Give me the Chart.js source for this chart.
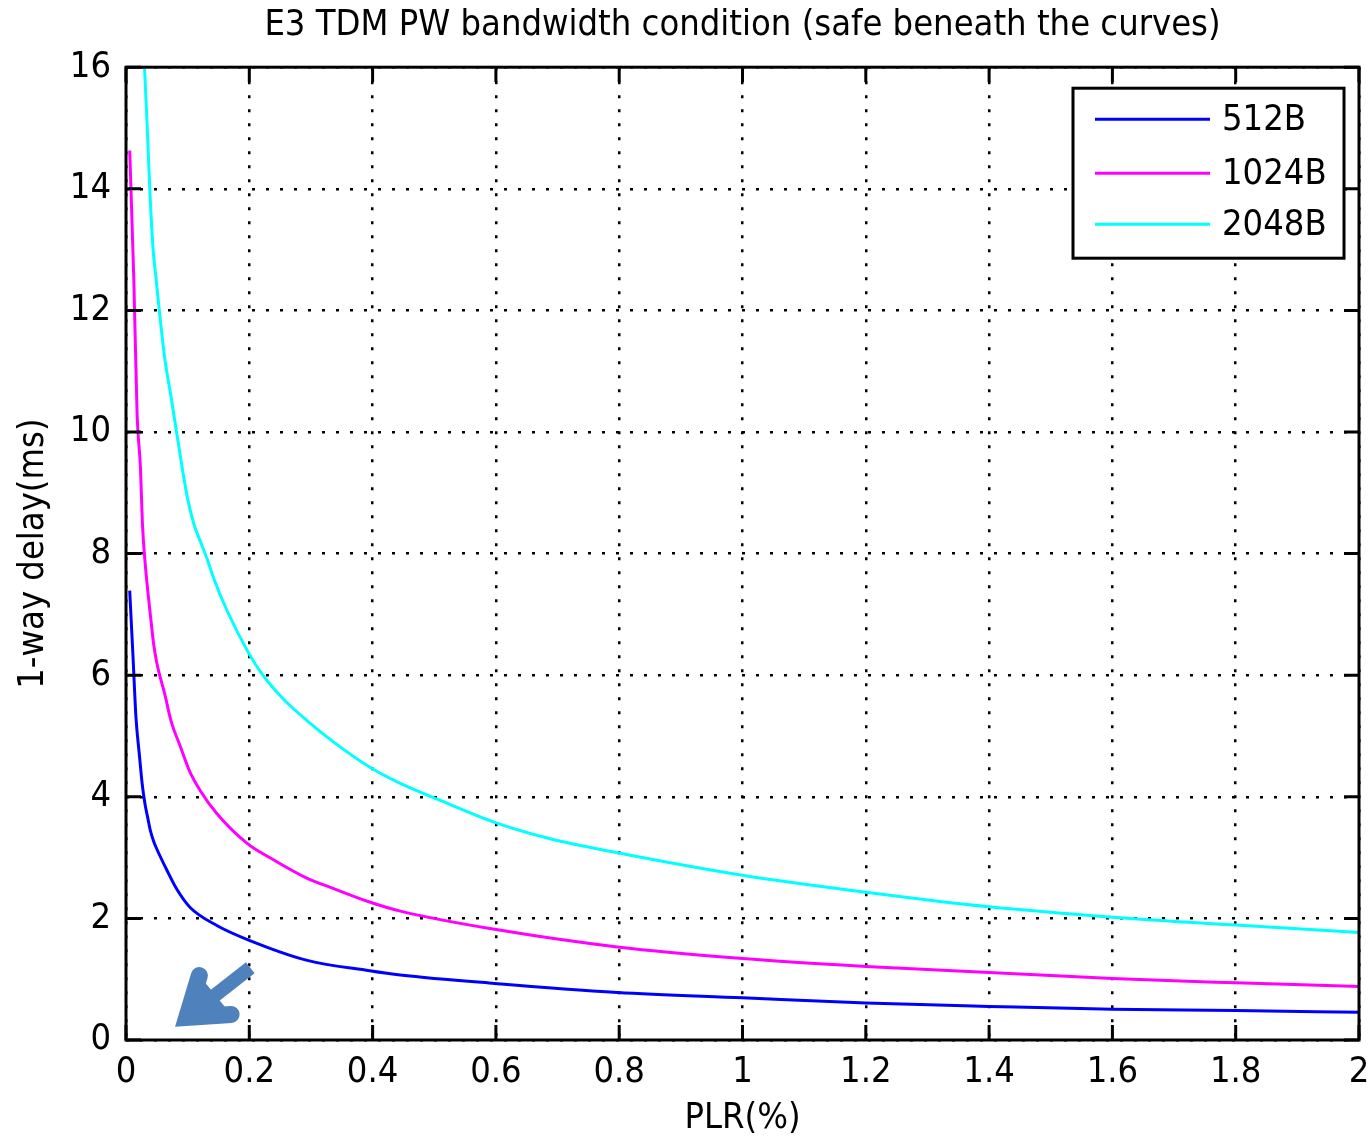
<!DOCTYPE html>
<html lang="en">
<head>
<meta charset="UTF-8">
<title>E3 TDM PW bandwidth condition</title>
<script src="https://cdn.jsdelivr.net/npm/chart.js"></script>
<style>
  html, body { margin: 0; padding: 0; background: #fff; }
  .wrap { width: 1371px; height: 1141px; position: relative; }
</style>
</head>
<body>
<div class="wrap"><canvas id="plr"></canvas></div>
<script>
// values
const xTickLabels = ['0', '0.2', '0.4', '0.6', '0.8', '1', '1.2', '1.4', '1.6', '1.8', '2'];
const yTickLabels = ['0', '2', '4', '6', '8', '10', '12', '14', '16'];
const seriesLabels = ['512B', '1024B', '2048B'];

const plr512 = [0.006, 0.0114, 0.0162, 0.0216, 0.0264, 0.0308, 0.035, 0.0394, 0.0448, 0.0496, 0.066, 0.083, 0.104, 0.148, 0.2, 0.294, 0.395, 0.445, 0.598, 0.797, 1.0, 1.2, 1.4, 1.6, 1.8, 2.0];
const delay512 = [7.39, 6.3, 5.3, 4.7, 4.2, 3.88, 3.67, 3.45, 3.27, 3.15, 2.80, 2.47, 2.18, 1.88, 1.64, 1.31, 1.14, 1.07, 0.93, 0.783, 0.695, 0.61, 0.553, 0.504, 0.485, 0.455];

const plr1024 = [0.006, 0.0127, 0.018, 0.0235, 0.0266, 0.031, 0.0357, 0.0405, 0.045, 0.05, 0.0546, 0.0626, 0.073, 0.088, 0.104, 0.1205, 0.1476, 0.197, 0.24, 0.294, 0.337, 0.395, 0.445, 0.598, 0.797, 1.0, 1.2, 1.4, 1.6, 1.8, 2.0];
const delay1024 = [14.63, 12.5, 10.3, 9.4, 8.5, 7.85, 7.35, 6.9, 6.5, 6.2, 6.0, 5.7, 5.25, 4.83, 4.4, 4.1, 3.72, 3.23, 2.96, 2.66, 2.49, 2.27, 2.12, 1.82, 1.53, 1.34, 1.21, 1.11, 1.01, 0.94, 0.88];

const plr2048 = [0.030, 0.0345, 0.039, 0.044, 0.049, 0.054, 0.063, 0.0727, 0.082, 0.0913, 0.100, 0.1097, 0.1226, 0.132, 0.142, 0.164, 0.197, 0.222, 0.256, 0.294, 0.337, 0.395, 0.445, 0.51, 0.598, 0.688, 0.797, 1.0, 1.2, 1.4, 1.6, 1.8, 2.0];
const delay2048 = [16.0, 15.0, 13.9, 13.0, 12.5, 12.0, 11.2, 10.6, 10.0, 9.4, 8.9, 8.5, 8.15, 7.9, 7.6, 7.06, 6.40, 6.0, 5.6, 5.25, 4.9, 4.49, 4.22, 3.94, 3.58, 3.31, 3.08, 2.71, 2.43, 2.19, 2.02, 1.89, 1.77];

const FONT = "'DejaVu Sans Condensed', 'DejaVu Sans', sans-serif";
const FS = 36;
const colors = ['#0000ff', '#ff00ff', '#00ffff'];

function pts(xs, ys) { return xs.map((x, i) => ({ x: x, y: ys[i] })); }

// matlab-like box, inward ticks, legend and the blue arrow
const matlabAxes = {
    id: 'matlabAxes',
    afterDraw(chart) {
        const ctx = chart.ctx, a = chart.chartArea;
        const xs = chart.scales.x, ys = chart.scales.y;
        ctx.save();
        ctx.strokeStyle = '#000';
        ctx.lineWidth = 3;
        ctx.strokeRect(a.left, a.top, a.right - a.left, a.bottom - a.top);
        ctx.beginPath();
        xs.ticks.forEach(t => {
            const px = xs.getPixelForValue(t.value);
            ctx.moveTo(px, a.bottom); ctx.lineTo(px, a.bottom - 15);
            ctx.moveTo(px, a.top); ctx.lineTo(px, a.top + 15);
        });
        ys.ticks.forEach(t => {
            const py = ys.getPixelForValue(t.value);
            ctx.moveTo(a.left, py); ctx.lineTo(a.left + 15, py);
            ctx.moveTo(a.right, py); ctx.lineTo(a.right - 15, py);
        });
        ctx.stroke();

        // legend box
        const bw = 271, bh = 170;
        const bx = a.right - 15 - bw, by = a.top + 21;
        ctx.fillStyle = '#fff';
        ctx.fillRect(bx, by, bw, bh);
        ctx.strokeRect(bx, by, bw, bh);
        ctx.font = FS + 'px ' + FONT;
        ctx.textBaseline = 'middle';
        ctx.textAlign = 'left';
        const rows = [31, 85, 136];
        chart.data.datasets.forEach((ds, i) => {
            const y = by + rows[i];
            ctx.strokeStyle = ds.borderColor;
            ctx.lineWidth = 3;
            ctx.beginPath();
            ctx.moveTo(bx + 22, y); ctx.lineTo(bx + 137, y);
            ctx.stroke();
            ctx.fillStyle = '#000';
            ctx.fillText(ds.label, bx + 149, y + 1);
        });

        // arrow annotation, placed in data space
        const P = (x, y) => [xs.getPixelForValue(x), ys.getPixelForValue(y)];
        const tail = P(0.2016, 1.187), tip = P(0.0985, 0.37);
        const w1 = P(0.1190, 1.06), w2 = P(0.1705, 0.42);
        ctx.strokeStyle = '#4f81bd';
        ctx.fillStyle = '#4f81bd';
        ctx.lineWidth = 14;
        ctx.lineCap = 'butt';
        ctx.beginPath();
        ctx.moveTo(tail[0], tail[1]); ctx.lineTo(tip[0], tip[1]);
        ctx.stroke();
        ctx.lineWidth = 17;
        ctx.lineCap = 'round';
        ctx.lineJoin = 'miter';
        ctx.miterLimit = 10;
        ctx.beginPath();
        ctx.moveTo(w1[0], w1[1]); ctx.lineTo(tip[0], tip[1]); ctx.lineTo(w2[0], w2[1]);
        ctx.stroke();
        ctx.beginPath();
        ctx.moveTo(w1[0], w1[1]); ctx.lineTo(tip[0], tip[1]); ctx.lineTo(w2[0], w2[1]);
        ctx.closePath();
        ctx.fill();
        ctx.restore();
    }
};

Chart.defaults.font.family = FONT;
Chart.defaults.color = '#000';

new Chart(document.getElementById('plr'), {
    type: 'line',
    data: {
        datasets: [
            { label: seriesLabels[0], data: pts(plr512, delay512), borderColor: colors[0] },
            { label: seriesLabels[1], data: pts(plr1024, delay1024), borderColor: colors[1] },
            { label: seriesLabels[2], data: pts(plr2048, delay2048), borderColor: colors[2] }
        ]
    },
    options: {
        responsive: true,
        maintainAspectRatio: false,
        animation: false,
        layout: { padding: { left: 0, right: 12, top: 0, bottom: 0 } },
        elements: {
            line: { borderWidth: 3, cubicInterpolationMode: 'monotone', fill: false },
            point: { radius: 0, hoverRadius: 0 }
        },
        plugins: {
            legend: { display: false },
            tooltip: { enabled: false },
            title: {
                display: true,
                fullSize: false,
                text: 'E3 TDM PW bandwidth condition (safe beneath the curves)',
                font: { size: FS, weight: 'normal' },
                padding: { top: 4, bottom: 20 }
            }
        },
        scales: {
            x: {
                type: 'linear',
                min: 0, max: 2,
                afterFit: s => { s.height = 101; s.paddingRight = 12; s.paddingLeft = 0; },
                ticks: {
                    stepSize: 0.2,
                    padding: 11,
                    maxRotation: 0,
                    font: { size: FS },
                    callback: (v, i) => xTickLabels[i]
                },
                grid: { color: '#000', lineWidth: 2.5, drawTicks: false },
                border: { display: false, dash: [3, 11] },
                title: { display: true, text: 'PLR(%)', font: { size: FS }, padding: { top: 0, bottom: 1 } }
            },
            y: {
                min: 0, max: 16,
                afterFit: s => { s.width = 126; },
                ticks: {
                    stepSize: 2,
                    padding: 15,
                    font: { size: FS },
                    callback: (v, i) => yTickLabels[i]
                },
                grid: { color: '#000', lineWidth: 2.5, drawTicks: false },
                border: { display: false, dash: [3, 11] },
                title: { display: true, text: '1-way delay(ms)', font: { size: FS }, padding: { top: 12, bottom: 0 } }
            }
        }
    },
    plugins: [matlabAxes]
});
</script>
</body>
</html>
